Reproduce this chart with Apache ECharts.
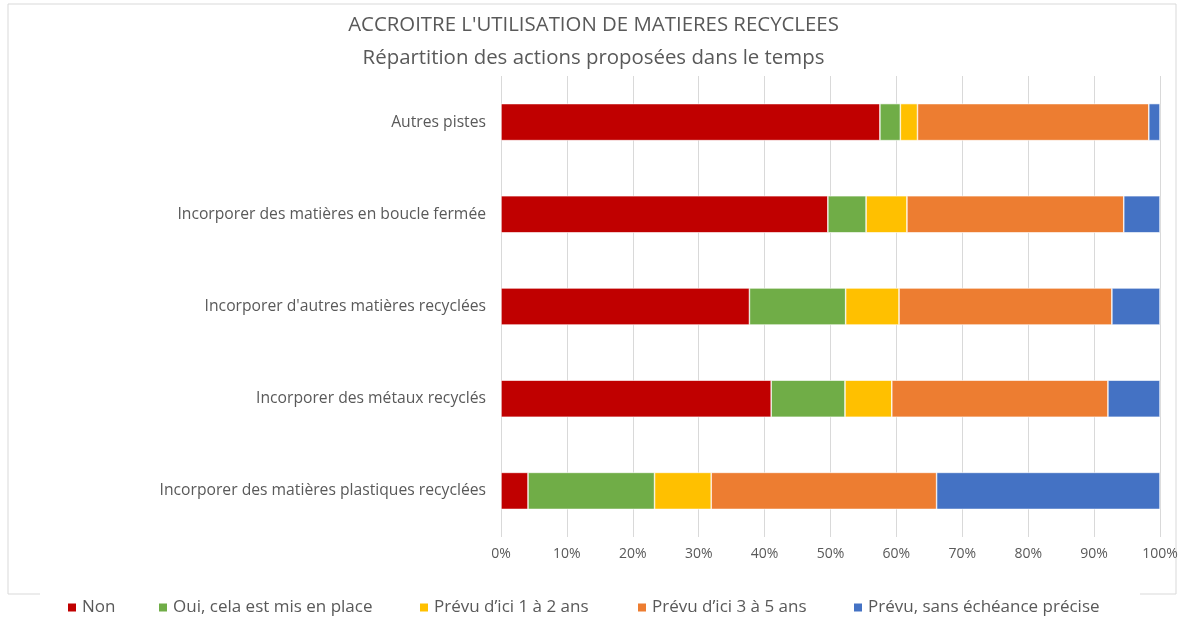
<!DOCTYPE html>
<html>
<head>
<meta charset="utf-8">
<script src="https://cdn.jsdelivr.net/npm/echarts@6/dist/echarts.min.js"></script>
<style>
  html, body { margin: 0; padding: 0; background: #fff; }
  #chart { width: 1187px; height: 621px; }
</style>
</head>
<body>
<div id="chart"></div>
<script>
  // categories, bottom to top (as the axis draws them)
  const categories = [
    'Incorporer des matières plastiques recyclées',
    'Incorporer des métaux recyclés',
    "Incorporer d'autres matières recyclées",
    'Incorporer des matières en boucle fermée',
    'Autres pistes'
  ];

  const seriesNames = [
    'Non',
    'Oui, cela est mis en place',
    'Prévu d’ici 1 à 2 ans',
    'Prévu d’ici 3 à 5 ans',
    'Prévu, sans échéance précise'
  ];

  // shares in %, same order as categories
  const nonValues     = [4.1, 41.0, 37.7, 49.6, 57.5];
  const ouiValues     = [19.2, 11.2, 14.6, 5.8, 3.1];
  const prevu12Values = [8.6, 7.1, 8.1, 6.2, 2.6];
  const prevu35Values = [34.2, 32.8, 32.3, 32.9, 35.1];
  const sansValues    = [33.9, 7.9, 7.3, 5.5, 1.7];

  const colors = ['#C00000', '#70AD47', '#FFC000', '#ED7D31', '#4472C4'];
  const allValues = [nonValues, ouiValues, prevu12Values, prevu35Values, sansValues];

  // left edge of each legend entry (legend padding is 5px)
  const legendLefts = [61, 152, 413, 631, 847];

  const font = '"Open Sans", sans-serif';
  const grey = '#595959';

  const chart = echarts.init(document.getElementById('chart'));
  chart.setOption({
    animation: false,
    color: colors,
    title: {
      text: "ACCROITRE L'UTILISATION DE MATIERES RECYCLEES\nRépartition des actions proposées dans le temps",
      left: 'center',
      top: 4,
      textStyle: { fontFamily: font, fontSize: 20.4, fontWeight: 'normal', color: grey, lineHeight: 33 }
    },
    legend: seriesNames.map((name, i) => ({
      left: legendLefts[i],
      top: 594,
      itemWidth: 10,
      itemHeight: 10,
      icon: 'rect',
      textStyle: { fontFamily: font, fontSize: 17, color: grey },
      data: [name]
    })),
    grid: { left: 501, right: 27, top: 76, bottom: 84 },
    xAxis: {
      type: 'value',
      min: 0,
      max: 100,
      interval: 10,
      axisLine: { show: false },
      axisTick: { show: false },
      axisLabel: { formatter: '{value}%', fontFamily: font, fontSize: 14, color: grey, margin: 10 },
      splitLine: { lineStyle: { color: '#d9d9d9' } }
    },
    yAxis: {
      type: 'category',
      data: categories,
      axisLine: { show: false },
      axisTick: { show: false },
      axisLabel: { fontFamily: font, fontSize: 15.7, color: grey, margin: 15 }
    },
    series: seriesNames.map((name, i) => ({
      name: name,
      type: 'bar',
      stack: 'total',
      barWidth: 37,
      itemStyle: { borderColor: '#fff', borderWidth: 0.6 },
      data: allValues[i]
    })),
    graphic: [
      // chart frame, bottom edge interrupted by the legend
      { type: 'polyline', shape: { points: [[40, 594], [8, 594], [8, 4], [1176, 4], [1176, 594], [1140, 594]] },
        style: { stroke: '#d9d9d9', fill: null, lineWidth: 1 } }
    ]
  });
</script>
</body>
</html>
